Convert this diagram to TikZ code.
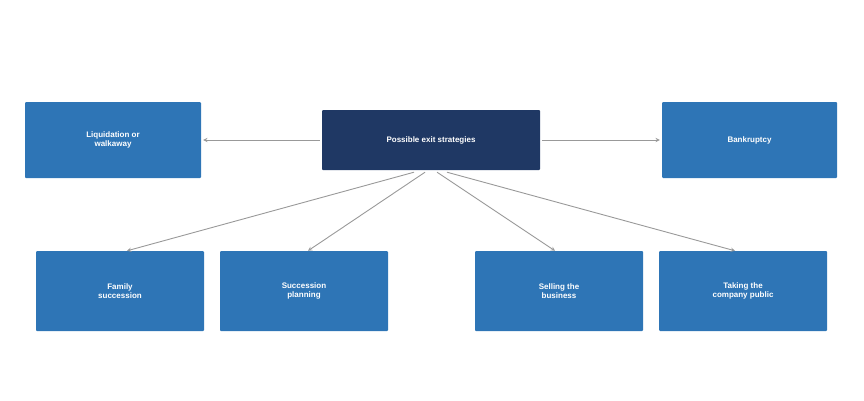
\documentclass[tikz,border=0pt]{standalone}
\usepackage{fontspec}
\setmainfont{Liberation Sans}
\usetikzlibrary{calc}
\definecolor{boxblue}{HTML}{2E75B6}
\definecolor{navy}{HTML}{1F3864}
\definecolor{arrowgray}{HTML}{999999}
\tikzset{
  box/.style={fill=boxblue, rounded corners=1pt, text=white, align=center,
    font=\bfseries\fontsize{8}{8.5}\selectfont, inner sep=0pt},
  link/.style={draw=arrowgray, line width=0.9pt, -stealth}
}
\begin{document}
\begin{tikzpicture}[x=1pt,y=-1pt]
  \useasboundingbox (0,0) rectangle (864,400);
  \node[box, fill=navy, minimum width=218pt, minimum height=60pt] (exit) at (431,140) {Possible exit strategies};
  \node[box, minimum width=176pt, minimum height=76pt] (liq) at (113,140) {Liquidation or\\walkaway};
  \node[box, minimum width=175pt, minimum height=76pt] (bank) at (749.5,140) {Bankruptcy};
  \node[box, minimum width=168pt, minimum height=80pt] (fam) at (120,291) {Family\\succession};
  \node[box, minimum width=168pt, minimum height=80pt] (plan) at (304,291) {Succession\\planning};
  \node[box, minimum width=168pt, minimum height=80pt] (sell) at (559,291) {Selling the\\business};
  \node[box, minimum width=168pt, minimum height=80pt] (public) at (743,291) {Taking the\\company public};
  % connectors
  \draw[link] ($(exit.west)+(-2,0)$) -- ($(liq.east)+(2,0)$);
  \draw[link] ($(exit.east)+(2,0)$) -- ($(bank.west)+(-2,0)$);
  \draw[link] ($(exit.south)+(-17,2)$) -- ($(fam.north)+(7,0)$);
  \draw[link] ($(exit.south)+(-6,2)$) -- ($(plan.north)+(4,0)$);
  \draw[link] ($(exit.south)+(6,2)$) -- ($(sell.north)+(-4,0)$);
  \draw[link] ($(exit.south)+(16,2)$) -- ($(public.north)+(-8,0)$);
\end{tikzpicture}
\end{document}
